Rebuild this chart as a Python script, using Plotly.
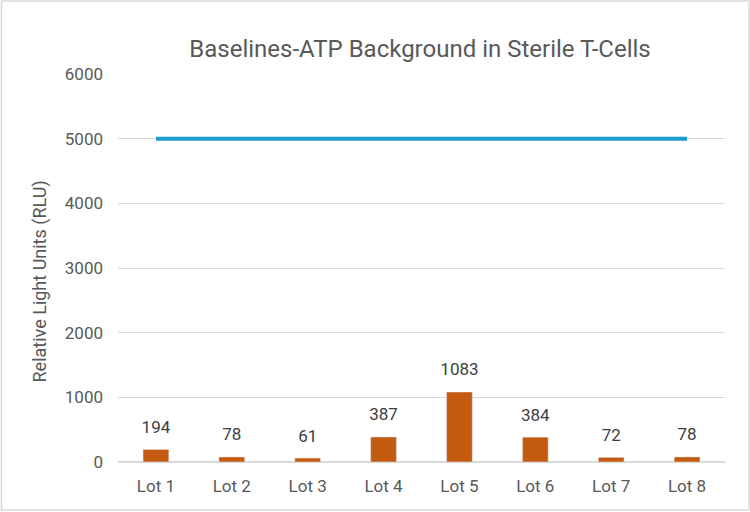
import plotly.graph_objects as go

# Datos del gráfico
lotes = ["Lot 1", "Lot 2", "Lot 3", "Lot 4", "Lot 5", "Lot 6", "Lot 7", "Lot 8"]
valores_rlu = [194, 78, 61, 387, 1083, 384, 72, 78]
limite = [5000, 5000, 5000, 5000, 5000, 5000, 5000, 5000]
ticks_y = [0, 1000, 2000, 3000, 4000, 5000, 6000]

fig = go.Figure()

# Barras de fondo ATP por lote
fig.add_trace(go.Bar(
    x=lotes, y=valores_rlu,
    marker_color="#C55A11",
    width=0.34,
    showlegend=False,
    hoverinfo="skip",
))

# Etiquetas de valor sobre las barras
fig.add_trace(go.Scatter(
    x=lotes, y=valores_rlu,
    mode="markers+text",
    marker=dict(size=18, opacity=0),
    text=valores_rlu, textposition="top center",
    textfont=dict(size=17, color="#404040"),
    cliponaxis=False,
    showlegend=False,
))

# Línea de límite
fig.add_trace(go.Scatter(
    x=lotes, y=limite,
    mode="lines",
    line=dict(color="#1F9BCF", width=4),
    showlegend=False,
))

fig.update_layout(
    width=750, height=512,
    margin=dict(l=118, r=25, t=74, b=50),
    paper_bgcolor="white",
    plot_bgcolor="white",
    font=dict(family="Roboto", color="#595959"),
    title=dict(
        text="Baselines-ATP Background in Sterile T-Cells",
        x=0.56, xanchor="center", y=0.905, yanchor="middle",
        font=dict(size=24, color="#595959", family="Roboto"),
    ),
    # título del eje Y como anotación para poder bajarlo un poco
    annotations=[dict(
        text="Relative Light Units (RLU)",
        xref="paper", yref="paper", x=-0.128, y=0.466,
        textangle=-90, showarrow=False,
        xanchor="center", yanchor="middle",
        font=dict(size=18, color="#595959"),
    )],
    # marco exterior del gráfico
    shapes=[dict(
        type="rect", xref="paper", yref="paper",
        x0=-0.192, x1=1.0395, y0=-0.124, y1=1.188,
        line=dict(color="#D9D9D9", width=1.5),
    )],
)

fig.update_xaxes(
    range=[-0.5, len(lotes) - 0.5],
    showgrid=False, showline=False, ticks="",
    ticklabelstandoff=12,
    tickfont=dict(size=17, color="#595959"),
)
fig.update_yaxes(
    range=[0, 6000], tickvals=ticks_y,
    showgrid=True, gridcolor="#D9D9D9", gridwidth=1,
    zeroline=True, zerolinecolor="#D9D9D9",
    ticklabelstandoff=14,
    tickfont=dict(size=17, color="#595959"),
)

# Quitar el margen del body para que el gráfico ocupe toda la ventana
fig.write_html(
    "out.html",
    config={"displayModeBar": False},
    post_script="document.body.style.margin='0';",
)
